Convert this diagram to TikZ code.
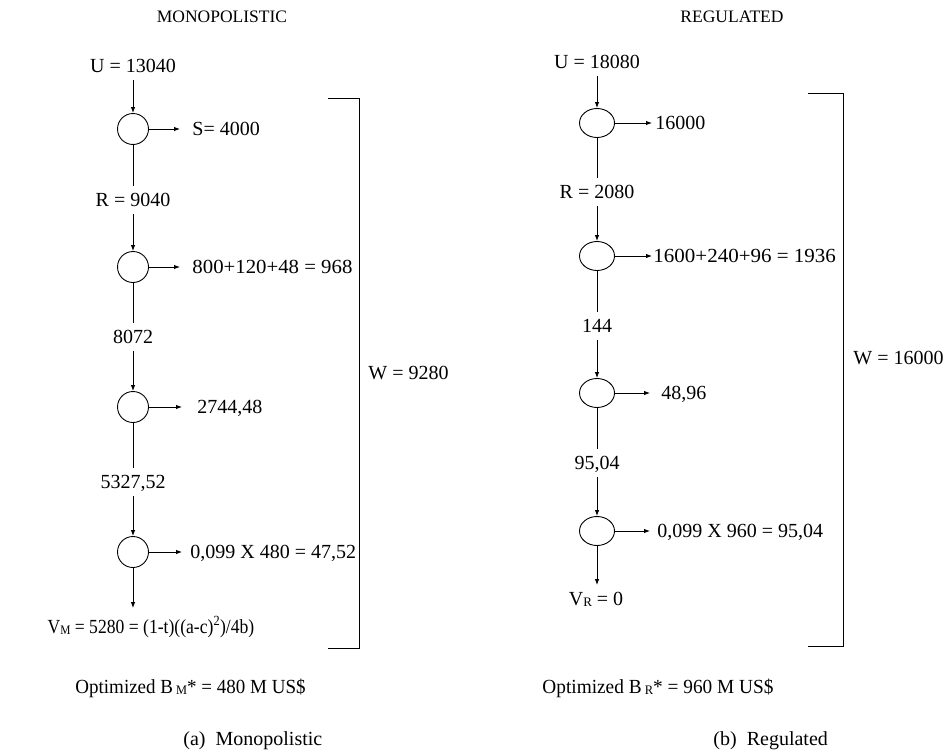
\documentclass[tikz,border=0pt]{standalone}
\usepackage{fontspec}
\setmainfont{Liberation Serif}
\usetikzlibrary{arrows.meta,shapes.geometric}
\newcommand{\smallsub}[1]{{\fontsize{13}{13}\selectfont\raisebox{-1pt}{#1}}}
\newcommand{\hsc}[2]{\scalebox{#1}[1]{#2}}
\begin{document}
\begin{tikzpicture}[x=1pt,y=-1pt,
  line width=0.9pt,
  every node/.style={font=\fontsize{20}{24}\selectfont},
  lbl/.style={inner sep=0pt, text height=13pt, text depth=0pt, inner ysep=7pt},
  side/.style={lbl, anchor=west},
  title/.style={font=\fontsize{17.5}{20}\selectfont, inner sep=0pt},
  circm/.style={draw, circle, minimum size=31pt, inner sep=0pt},
  circr/.style={draw, ellipse, minimum width=35pt, minimum height=29pt, inner sep=0pt},
  arr/.style={-{Latex[length=6pt,width=4.5pt]}}]
\useasboundingbox (0,0) rectangle (949,752);

% ---------------- Monopolistic ----------------
\node[title] (tM) at (222,17) {MONOPOLISTIC};
\node[lbl] (uM) at (133,66) {U = 13040};
\node[circm] (m1) at (133,129) {};
\node[side, inner xsep=12pt] (sM) at (180,129) {S= 4000};
\node[lbl] (rM) at (133,200) {R = 9040};
\node[circm] (m2) at (133,267) {};
\node[side, inner xsep=12pt] (aM) at (180,267) {\hsc{1.04}{800+120+48 = 968}};
\node[lbl] (n8072) at (133,337) {8072};
\node[circm] (m3) at (133,407) {};
\node[side, inner xsep=15pt] (bM) at (182,407) {2744,48};
\node[lbl] (n5327) at (133,482) {5327,52};
\node[circm] (m4) at (133,552) {};
\node[side, inner xsep=8pt] (cM) at (182,552) {0,099 X 480 = 47,52};
\node[lbl] (vM) at (151,627) {\hsc{0.88}{V\smallsub{M} = 5280 = (1-t)((a-c)\textsuperscript{2})/4b)}};

\draw[arr] (uM) -- (m1);
\draw[arr] (m1) -- (sM);
\draw (m1) -- (rM);
\draw[arr] (rM) -- (m2);
\draw[arr] (m2) -- (aM);
\draw (m2) -- (n8072);
\draw[arr] (n8072) -- (m3);
\draw[arr] (m3) -- (bM);
\draw (m3) -- (n5327);
\draw[arr] (n5327) -- (m4);
\draw[arr] (m4) -- (cM);
\draw[arr] (m4.south) -- ([yshift=5pt]m4.south |- vM.north);

\coordinate (bMt0) at (328,98);
\coordinate (bMt1) at (359,98);
\coordinate (bMb1) at (359,648);
\coordinate (bMb0) at (328,648);
\draw (bMt0) -- (bMt1) -- (bMb1) -- (bMb0);
\node[side, inner xsep=0pt] (wM) at (368,373) {W = 9280};

\node[side, inner xsep=0pt] (oM) at (75,687) {\hsc{0.95}{Optimized B\,\smallsub{M}* = 480 M US\$}};
\node[side, inner xsep=0pt] (capM) at (183,739) {(a)\hspace{10pt}Monopolistic};

% ---------------- Regulated ----------------
\node[title] (tR) at (732,17) {REGULATED};
\node[lbl] (uR) at (597,62) {U = 18080};
\node[circr] (r1) at (597,123) {};
\node[side, inner xsep=3pt] (sR) at (652,123) {16000};
\node[lbl] (rR) at (597,192) {R = 2080};
\node[circr] (r2) at (597,256) {};
\node[side, inner xsep=1pt] (aR) at (652,256) {\hsc{1.05}{1600+240+96 = 1936}};
\node[lbl] (n144) at (597,326) {144};
\node[circr] (r3) at (597,393) {};
\node[side, inner xsep=11pt] (bR) at (650,393) {48,96};
\node[lbl] (n9504) at (597,463) {95,04};
\node[circr] (r4) at (597,531) {};
\node[side, inner xsep=7pt] (cR) at (650,531) {0,099 X 960 = 95,04};
\node[lbl] (vR) at (596,599) {V\smallsub{R} = 0};

\draw[arr] (uR) -- (r1);
\draw[arr] (r1) -- (sR);
\draw (r1) -- (rR);
\draw[arr] (rR) -- (r2);
\draw[arr] (r2) -- (aR);
\draw (r2) -- (n144);
\draw[arr] (n144) -- (r3);
\draw[arr] (r3) -- (bR);
\draw (r3) -- (n9504);
\draw[arr] (n9504) -- (r4);
\draw[arr] (r4) -- (cR);
\draw[arr] (r4.south) -- (r4.south |- vR.north);

\coordinate (bRt0) at (808,93);
\coordinate (bRt1) at (843,93);
\coordinate (bRb1) at (843,646);
\coordinate (bRb0) at (808,646);
\draw (bRt0) -- (bRt1) -- (bRb1) -- (bRb0);
\node[side, inner xsep=0pt] (wR) at (853,358) {W = 16000};

\node[side, inner xsep=0pt] (oR) at (542,687) {\hsc{0.965}{Optimized B\,\smallsub{R}* = 960 M US\$}};
\node[side, inner xsep=0pt] (capR) at (713,739) {(b)\hspace{10pt}Regulated};
\end{tikzpicture}
\end{document}
